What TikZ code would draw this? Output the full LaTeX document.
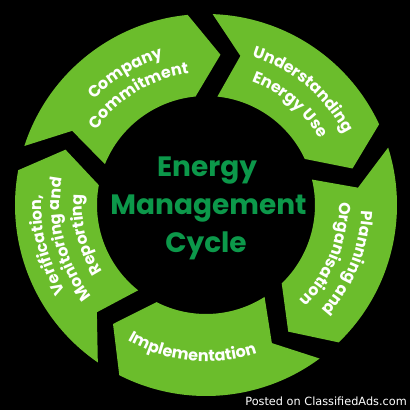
\documentclass[tikz,border=0pt]{standalone}
\usepackage{fontspec}
\setmainfont{Poppins}
\newfontfamily\wmfont{DejaVu Sans}
\usetikzlibrary{decorations.text}
\definecolor{ringgreen}{RGB}{107,189,44}
\definecolor{titlegreen}{RGB}{12,152,74}
\newcommand\labfont{\fontsize{16}{19}\selectfont\bfseries}
\tikzset{
  seg/.style={fill=ringgreen},
  lab/.style={decorate, decoration={text along path, text align=center, text color=white, text={|\labfont|#1}}},
  title/.style={text=titlegreen, font=\fontsize{28}{32}\selectfont\bfseries, anchor=base, inner sep=0pt},
}
% #1 previous head angle, #2 this head angle
\newcommand\ringseg[2]{%
  \fill[seg] ({#1-7.5}:191) arc[start angle={#1-7.5}, end angle={#2}, radius=191pt]
    -- ({#2-11}:151) -- ({#2}:109) arc[start angle={#2}, end angle={#1-11.5}, radius=109pt]
    -- ({#1-18.5}:153) -- cycle;}
% #1 centre angle, #2 baseline radius, #3 half span (signed), #4 text
\newcommand\arclab[4]{%
  \path[lab={#4}] ({#1+#3}:#2) arc[start angle={#1+#3}, end angle={#1-#3}, radius=#2pt];}
\begin{document}
\begin{tikzpicture}[x=1pt,y=1pt]
\fill[black] (-206,-205) rectangle (204,205);
\useasboundingbox (-206,-205) rectangle (204,205);
% ring segments
\ringseg{169.5}{95.5}
\ringseg{95.5}{25}
\ringseg{25}{-46}
\ringseg{-46}{-117}
\ringseg{-117}{-190.5}
% labels
\arclab{121.5}{153.5}{40}{Company}
\arclab{121.5}{132.5}{40}{Commitment}
\arclab{50}{155.5}{40}{Understanding}
\arclab{50}{131.5}{40}{Energy Use}
\arclab{-22.2}{156}{40}{Planning and}
\arclab{-22.2}{133.5}{40}{Organisation}
\arclab{-95.5}{156.5}{-35}{Implementation}
\arclab{194}{164.5}{35}{Verification,}
\arclab{194}{146}{38}{Monitoring and}
\arclab{194}{123.5}{40}{Reporting}
% centre title
\node[title] (t1) at (1,29) {Energy};
\node[title] (t2) at (2.5,-9) {Management};
\node[title] (t3) at (0,-47) {Cycle};
% watermark
\node[font=\wmfont\fontsize{11.3}{13}\selectfont, text=white, fill=black, anchor=base east, inner sep=1pt] (wm) at (202,-200) {Posted on ClassifiedAds.com};
\end{tikzpicture}
\end{document}
